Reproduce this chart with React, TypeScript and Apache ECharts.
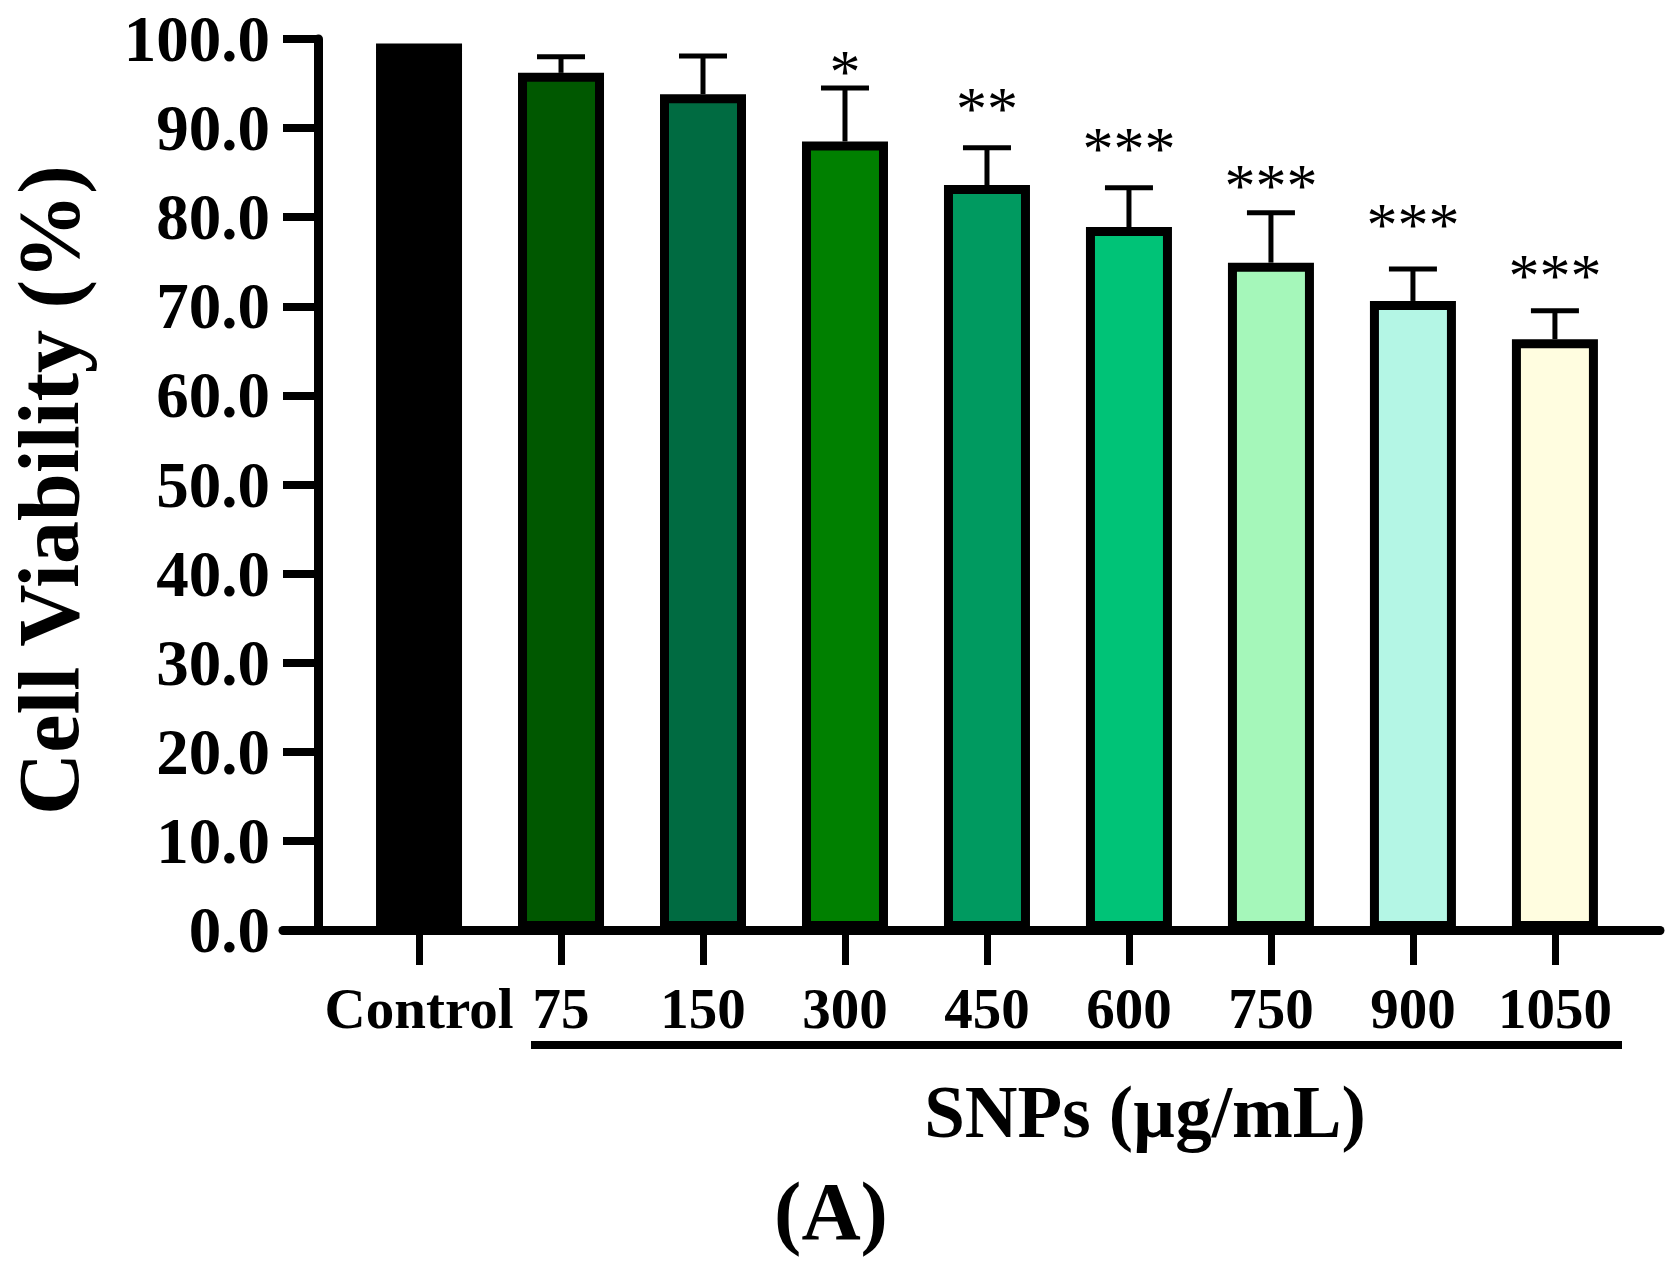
import { useEffect, useRef } from "react";
import * as echarts from "echarts";

const categories = ["Control", "75", "150", "300", "450", "600", "750", "900", "1050"];
const viability = [99.5, 96.2, 93.8, 88.5, 83.6, 78.9, 74.9, 70.6, 66.3];
const errorSD = [0, 1.8, 4.3, 6.0, 4.2, 4.4, 5.6, 3.6, 3.2];
const significance = ["", "", "", "*", "**", "***", "***", "***", "***"];
// height (in % units) where each significance mark is centred
const starLevel = [0, 0, 0, 97.3, 93.1, 88.7, 84.5, 80.1, 74.4];
const barColors = ["#000000", "#005800", "#006b41", "#008000", "#009a60", "#00c377", "#a5f7ba", "#b4f6e5", "#fffde0"];

const SERIF = '"Liberation Serif", "Times New Roman", serif';

export default function App() {
  const ref = useRef<HTMLDivElement | null>(null);

  useEffect(() => {
    document.body.style.margin = "0";
    if (!ref.current) return;
    const chart = echarts.init(ref.current, undefined, { renderer: "svg" });

    const idx = categories.map((_, i) => i);
    // only the treated groups carry an error bar
    const errData = idx
      .filter((i) => errorSD[i] > 0)
      .map((i) => [i, viability[i], viability[i] + errorSD[i], starLevel[i]]);

    chart.setOption({
      animation: false,
      backgroundColor: "#ffffff",
      grid: { left: 283, right: 13, top: 39, bottom: 331 },
      xAxis: {
        type: "value",
        min: -0.958,
        max: 8.74,
        splitLine: { show: false },
        axisLine: { show: true, onZero: false, lineStyle: { color: "#000", width: 9 } },
        axisTick: { show: true, customValues: idx, length: 35, lineStyle: { color: "#000", width: 7 } },
        axisLabel: {
          customValues: idx,
          margin: 50,
          formatter: (v: number) => categories[Math.round(v)] ?? "",
          fontFamily: SERIF,
          fontWeight: "bold",
          fontSize: 57,
          color: "#000",
        },
      },
      yAxis: {
        type: "value",
        min: 0,
        max: 100,
        interval: 10,
        offset: -35,
        splitLine: { show: false },
        axisLine: { show: true, onZero: false, lineStyle: { color: "#000", width: 9 } },
        axisTick: { show: true, length: 35, lineStyle: { color: "#000", width: 8 } },
        axisLabel: {
          margin: 48,
          formatter: (v: number) => v.toFixed(1),
          fontFamily: SERIF,
          fontWeight: "bold",
          fontSize: 65,
          color: "#000",
        },
      },
      series: [
        {
          type: "custom",
          z: 1,
          clip: false,
          data: errData,
          encode: { x: 0, y: [1, 2] },
          renderItem: (_params: any, api: any) => {
            const i = Math.round(api.value(0));
            const base = api.coord([api.value(0), api.value(1)]);
            const top = api.coord([api.value(0), api.value(2)]);
            const star = api.coord([api.value(0), api.value(3)]);
            const half = 24;
            return {
              type: "group",
              children: [
                { type: "line", shape: { x1: base[0], y1: base[1], x2: top[0], y2: top[1] }, style: { stroke: "#000", lineWidth: 5 } },
                { type: "line", shape: { x1: top[0] - half, y1: top[1], x2: top[0] + half, y2: top[1] }, style: { stroke: "#000", lineWidth: 5 } },
                {
                  type: "text",
                  style: {
                    text: significance[i],
                    x: star[0],
                    y: star[1] + 8,
                    align: "center",
                    verticalAlign: "middle",
                    fontFamily: SERIF,
                    fontSize: 62,
                    fill: "#000",
                  },
                },
              ],
            };
          },
        },
        {
          type: "bar",
          z: 2,
          clip: false,
          barWidth: 86,
          data: categories.map((_, i) => ({
            value: [i, viability[i]],
            itemStyle: { color: barColors[i], borderColor: "#000", borderWidth: 9 },
          })),
        },
      ],
      graphic: [
        {
          type: "text",
          x: 49,
          y: 490,
          rotation: Math.PI / 2,
          style: {
            text: "Cell Viability (%)",
            align: "center",
            verticalAlign: "middle",
            fontFamily: SERIF,
            fontWeight: "bold",
            fontSize: 86,
            fill: "#000",
          },
        },
        {
          type: "line",
          shape: { x1: 531, y1: 1045, x2: 1622, y2: 1045 },
          style: { stroke: "#000", lineWidth: 8 },
        },
        {
          type: "text",
          x: 1145,
          y: 1112,
          style: {
            text: "SNPs (µg/mL)",
            align: "center",
            verticalAlign: "middle",
            fontFamily: SERIF,
            fontWeight: "bold",
            fontSize: 73,
            fill: "#000",
          },
        },
        {
          type: "text",
          x: 831,
          y: 1211,
          style: {
            text: "(A)",
            align: "center",
            verticalAlign: "middle",
            fontFamily: SERIF,
            fontWeight: "bold",
            fontSize: 82,
            fill: "#000",
          },
        },
      ],
    });

    return () => chart.dispose();
  }, []);

  return <div ref={ref} style={{ width: 1673, height: 1261 }} />;
}
